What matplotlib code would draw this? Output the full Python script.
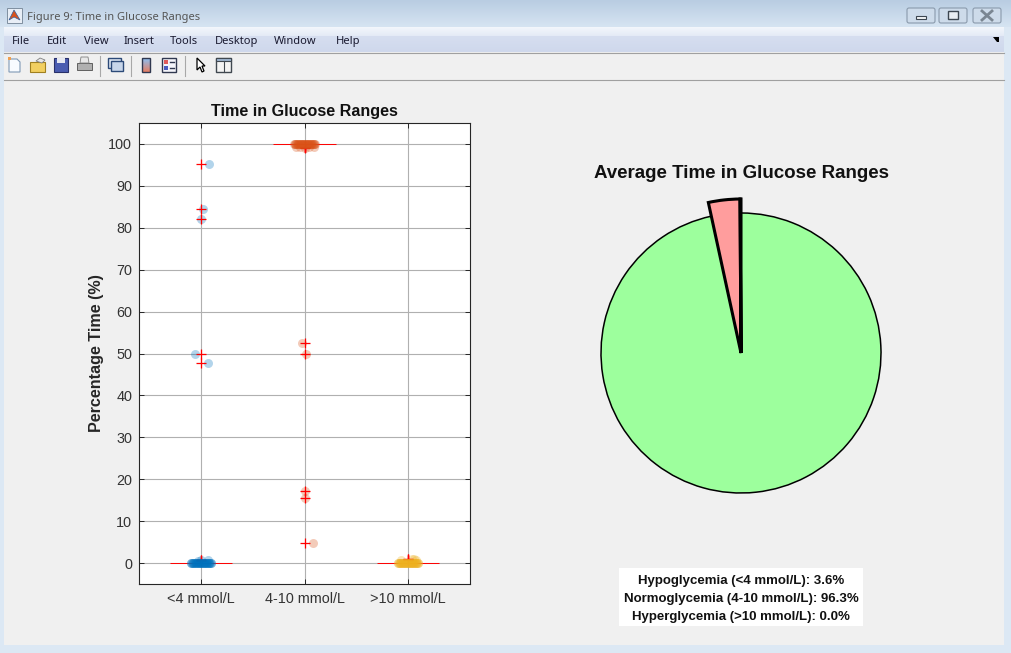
import numpy as np
import matplotlib
matplotlib.use('Agg')
import matplotlib.pyplot as plt
from matplotlib.patches import Rectangle, Polygon, FancyBboxPatch

plt.rcParams['font.family'] = ['Liberation Sans', 'DejaVu Sans']

# percent of time per subject
categories = ['<4 mmol/L', '4-10 mmol/L', '>10 mmol/L']
y_ticks = [0, 10, 20, 30, 40, 50, 60, 70, 80, 90, 100]

cluster_jitter = [-0.10, -0.095, -0.088, -0.08, -0.074, -0.066, -0.06, -0.052, -0.045, -0.038,
                  -0.03, -0.024, -0.016, -0.01, -0.003, 0.004, 0.011, 0.018, 0.025, 0.031,
                  0.038, 0.046, 0.052, 0.06, 0.067, 0.074, 0.08, 0.088, 0.095, 0.10]

low_vals = [0.0] * len(cluster_jitter) + [0.7, 0.6, 0.8, 95.2, 84.5, 82.2, 50.0, 47.7]
low_jit = cluster_jitter + [0.0, -0.03, 0.07, 0.08, 0.02, 0.0, -0.06, 0.07]

mid_vals = [100.0] * len(cluster_jitter) + [99.2, 99.3, 99.0, 99.3, 99.2, 52.4, 50.0, 17.3, 15.5, 4.7]
mid_jit = cluster_jitter + [-0.08, -0.04, 0.0, 0.04, 0.09, -0.02, 0.01, 0.0, 0.0, 0.08]

high_vals = [0.0] * len(cluster_jitter) + [0.8, 0.9, 0.9, 0.8]
high_jit = cluster_jitter + [-0.07, 0.04, 0.06, 0.08]

pie_values = [96.6, 3.3, 0.1]
pie_colors = ['#9dff9d', '#ff9d9d', '#ff9d9d']
summary_lines = ['Hypoglycemia (<4 mmol/L): 3.6%',
                 'Normoglycemia (4-10 mmol/L): 96.3%',
                 'Hyperglycemia (>10 mmol/L): 0.0%']

W, H = 1011, 653
fig = plt.figure(figsize=(W / 100, H / 100), dpi=100, facecolor='#dce8f4')


def px_axes(left, top, right, bottom):
    return fig.add_axes([left / W, 1 - bottom / H, (right - left) / W, (bottom - top) / H])


# window chrome, drawn in pixel coordinates
bg = fig.add_axes([0, 0, 1, 1], zorder=0)
bg.set_xlim(0, W)
bg.set_ylim(H, 0)
bg.axis('off')


def gradient(x0, x1, y0, y1, c0, c1):
    c0 = np.array(matplotlib.colors.to_rgb(c0))
    c1 = np.array(matplotlib.colors.to_rgb(c1))
    t = np.linspace(0, 1, 32)[:, None, None]
    bg.imshow(c0 + (c1 - c0) * t, extent=[x0, x1, y1, y0], aspect='auto', zorder=1)


gradient(0, W, 0, 27, '#b9cde2', '#d6e4f2')
gradient(4, 1004, 27, 36, '#f3f7fc', '#e4eaf6')
gradient(4, 1004, 36, 52, '#d6def0', '#cfd8ec')
bg.add_patch(Rectangle((4, 52), 1000, 28, fc='#f0f0f0', ec='none', zorder=1))
bg.plot([4, 1004], [52.5, 52.5], color='#a0a0a0', lw=0.8, zorder=2)
bg.plot([4, 1004], [79.5, 79.5], color='#a0a0a0', lw=0.8, zorder=2)
bg.add_patch(Rectangle((4, 80), 1000, 565, fc='#f0f0f0', ec='none', zorder=1))
bg.set_xlim(0, W)
bg.set_ylim(H, 0)

# title bar
bg.add_patch(Rectangle((7, 8), 15, 15, fc='#e8eef6', ec='#7f8fa0', lw=0.7, zorder=3))
bg.add_patch(Polygon([(9, 20), (14, 10), (20, 20), (14, 17)], fc='#d9531e', ec='#3060a0', lw=0.5, zorder=4))
bg.text(27, 20, 'Figure 9: Time in Glucose Ranges', family='Noto Sans', fontsize=8, color='#555555',
        va='baseline', zorder=5)
for x0, x1, kind in [(906, 936, 'min'), (938, 968, 'max'), (972, 1002, 'close')]:
    bg.add_patch(FancyBboxPatch((x0 + 1, 8), x1 - x0 - 2, 15, boxstyle='round,pad=0,rounding_size=2',
                                fc='#cddbea', ec='#8a9aac', lw=0.8, zorder=3))
    cx = (x0 + x1) / 2
    if kind == 'min':
        bg.add_patch(Rectangle((cx - 5, 16), 10, 3, fc='#f4f6f8', ec='#3c4650', lw=0.8, zorder=4))
    elif kind == 'max':
        bg.add_patch(Rectangle((cx - 5, 11), 10, 8, fc='#e8edf2', ec='#3c4650', lw=1, zorder=4))
    else:
        bg.plot([cx - 5, cx + 5], [11, 20], color='#7a8692', lw=2, zorder=4)
        bg.plot([cx - 5, cx + 5], [20, 11], color='#7a8692', lw=2, zorder=4)

# menu bar
menu_names = ['File', 'Edit', 'View', 'Insert', 'Tools', 'Desktop', 'Window', 'Help']
menu_x = [12, 47, 84, 124, 170, 215, 274, 336]
for name, x in zip(menu_names, menu_x):
    bg.text(x, 44, name, family='Noto Sans', fontsize=8, color='#1a1a30', va='baseline', zorder=5)
bg.add_patch(Polygon([(993, 37), (999, 37), (999, 42), (997, 42)], fc='black', ec='none', zorder=5))

# toolbar icons, rough shapes only
bg.add_patch(Polygon([(9, 59), (17, 59), (20, 62), (20, 72), (9, 72)], fc='#f8fbff', ec='#7f99b5', lw=0.8, zorder=3))
bg.add_patch(Rectangle((8, 57), 3, 3, fc='#f0a050', ec='none', zorder=4))
bg.add_patch(Rectangle((30, 62), 15, 10, fc='#f2cf60', ec='#a08020', lw=0.8, zorder=3))
bg.add_patch(Polygon([(36, 61), (40, 58), (45, 60), (42, 63)], fc='#e8e8e8', ec='#808080', lw=0.6, zorder=3))
bg.add_patch(Rectangle((54, 58), 14, 14, fc='#4a5cb0', ec='#28306a', lw=0.8, zorder=3))
bg.add_patch(Rectangle((57, 58), 8, 5, fc='#e6e8f0', ec='none', zorder=4))
bg.add_patch(Rectangle((77, 63), 15, 7, fc='#b0b0b0', ec='#606060', lw=0.7, zorder=3))
bg.add_patch(Polygon([(80, 63), (81, 57), (88, 57), (89, 63)], fc='#e8e8e8', ec='#808080', lw=0.6, zorder=4))
bg.add_patch(Rectangle((108, 58), 13, 10, fc='#dde6f2', ec='#2c4a78', lw=1, zorder=3))
bg.add_patch(Rectangle((111, 61), 12, 10, fc='#c8d6ea', ec='#2c4a78', lw=1, zorder=4))
cbar = np.linspace(0, 1, 16)[:, None, None] * np.array([[[0.35, -0.25, -0.55]]]) + np.array([[[0.55, 0.75, 0.95]]])
bg.imshow(cbar, extent=[142, 150, 72, 58], aspect='auto', zorder=3)
bg.add_patch(Rectangle((142, 58), 8, 14, fc='none', ec='#303850', lw=1, zorder=4))
bg.add_patch(Rectangle((162, 58), 14, 14, fc='#f4f4fa', ec='#303850', lw=1, zorder=3))
bg.add_patch(Rectangle((164, 60), 4, 4, fc='#e05a5a', ec='none', zorder=4))
bg.add_patch(Rectangle((164, 66), 4, 4, fc='#4a5cc0', ec='none', zorder=4))
bg.plot([170, 174], [62, 62], color='#303850', lw=1, zorder=4)
bg.plot([170, 174], [68, 68], color='#303850', lw=1, zorder=4)
bg.add_patch(Polygon([(197, 58), (197, 70), (200, 67), (202, 72), (204, 71), (202, 66), (205, 66)],
                     fc='white', ec='black', lw=0.9, zorder=3))
bg.add_patch(Rectangle((216, 58), 15, 14, fc='#f4f4f4', ec='#404850', lw=1, zorder=3))
bg.add_patch(Rectangle((216, 58), 15, 3, fc='#9fb6d0', ec='#404850', lw=0.8, zorder=4))
bg.plot([224, 224], [61, 72], color='#404850', lw=0.8, zorder=4)
for sx in [99.5, 130.5, 184.5]:
    bg.plot([sx, sx], [56, 76], color='#a8a8a8', lw=0.8, zorder=3)

# left plot
ax = px_axes(139, 123, 470, 584)
ax.set_zorder(2)
bp = ax.boxplot([low_vals, mid_vals, high_vals], positions=[1, 2, 3], widths=0.6, showcaps=False,
                manage_ticks=False, zorder=2, showbox=False,
                medianprops=dict(color='red', lw=0.7),
                whiskerprops=dict(color='red', lw=0.7),
                flierprops=dict(marker='+', markeredgecolor='red', markersize=7, markeredgewidth=0.9))
for f in bp['fliers']:
    f.set_zorder(4)
n = len(cluster_jitter)
for pos, vals, jit, col in [(1, low_vals, low_jit, '#0072BD'),
                            (2, mid_vals, mid_jit, '#D95319'),
                            (3, high_vals, high_jit, '#EDB120')]:
    # the dense clump sits over the + marks, the single points under them
    ax.scatter(pos + np.array(jit[:n]), vals[:n], s=42, color=col, alpha=0.3, linewidths=0, zorder=5)
    ax.scatter(pos + np.array(jit[n:]), vals[n:], s=42, color=col, alpha=0.3, linewidths=0, zorder=3)
ax.set_xlim(0.4, 3.6)
ax.set_ylim(-5, 105)
ax.set_xticks([1, 2, 3])
ax.set_xticklabels(categories)
ax.set_yticks(y_ticks)
ax.grid(True, color='#b0b0b0', lw=0.8)
ax.set_axisbelow(True)
ax.tick_params(direction='in', length=3.5, width=0.7, top=True, right=True, color='#262626',
               labelsize=10.4, labelcolor='#333333', pad=6)
ax.tick_params(axis='y', pad=5)
for s in ax.spines.values():
    s.set_linewidth(0.8)
    s.set_color('#262626')
ax.set_ylabel('Percentage Time (%)', fontsize=11.6, fontweight='bold', color='#262626', labelpad=3)
ax.set_title('Time in Glucose Ranges', fontsize=11.6, fontweight='bold', color='#111111', pad=5)

# right plot
ax2 = px_axes(601, 213, 881, 493)
ax2.set_zorder(2)
wedges, _ = ax2.pie(pie_values, colors=pie_colors, startangle=90, counterclock=False, normalize=True,
                    radius=1, wedgeprops=dict(edgecolor='black', linewidth=1.1))
for w in wedges[1:]:
    w.set_radius(1.1)
    w.set_linewidth(2.2)
    w.set_zorder(5)
for w in wedges:
    w.set_clip_on(False)
ax2.set_xlim(-1, 1)
ax2.set_ylim(-1, 1)
fig.text(741.5 / W, 1 - 173 / H, 'Average Time in Glucose Ranges', fontsize=13.5, fontweight='bold',
         color='#111111', ha='center', va='center')

# summary box
bg.add_patch(Rectangle((619, 568), 244, 58, fc='white', ec='none', zorder=3))
for i, line in enumerate(summary_lines):
    bg.text(741, 581 + 18 * i, line, fontsize=9.55, fontweight='bold', color='#111111',
            ha='center', va='center', zorder=4)

fig.savefig('out.png', dpi=100, facecolor=fig.get_facecolor())
